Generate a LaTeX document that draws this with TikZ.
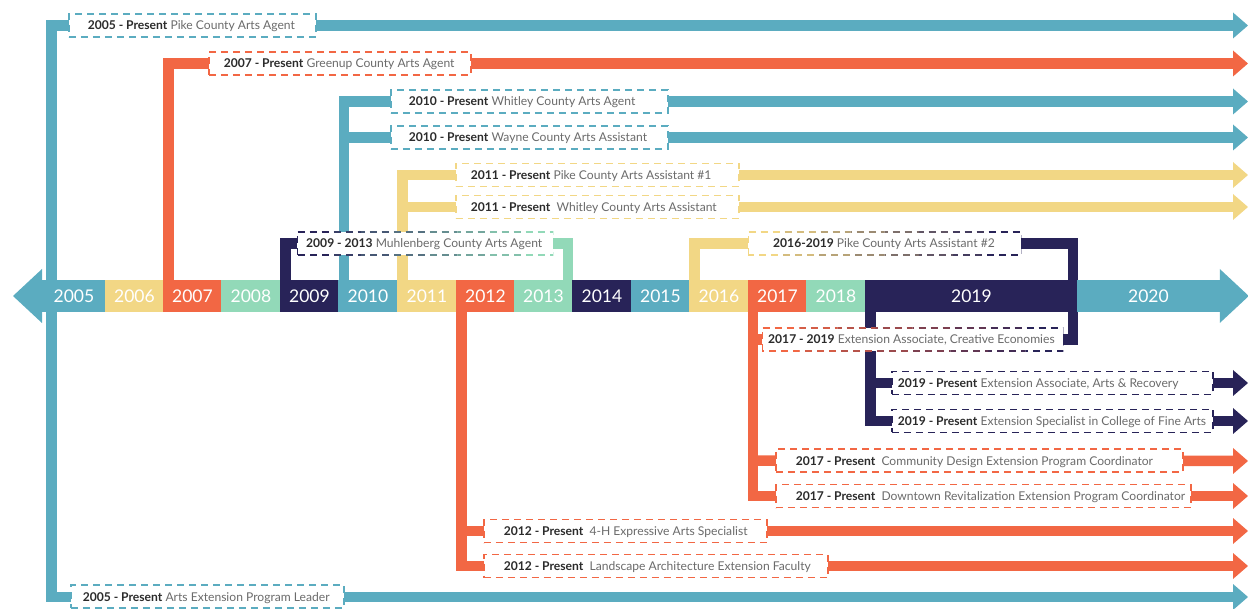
\documentclass[tikz,border=0pt]{standalone}
\usepackage{fontspec}
\setmainfont{Lato}
\usetikzlibrary{arrows.meta,calc,backgrounds}
\definecolor{cteal}{HTML}{5BACC0}
\definecolor{cyellow}{HTML}{F2D785}
\definecolor{corange}{HTML}{F26744}
\definecolor{cmint}{HTML}{92D9B8}
\definecolor{cnavy}{HTML}{282358}
\definecolor{cdark}{HTML}{2B2B2B}
\definecolor{cgray}{HTML}{6B6B6B}
\newcommand\bxt[4]{\makebox[#1pt][l]{\hspace{#2pt}\textcolor{cdark}{\bfseries #3} #4}}
\newcommand\gradborder[3]{%
  \foreach \i in {0,...,7}{%
    \pgfmathtruncatemacro\pa{100-\i*100/7}%
    \begin{scope}
      \clip ($(#1.south west)!\i/8!(#1.south east)+(0,6)$) rectangle ($(#1.north west)!{(\i+1)/8}!(#1.north east)+(0,-6)$);
      \draw[draw=#2!\pa!#3, dash pattern=on 7pt off 5pt, line width=1.5pt] (#1.south west) rectangle (#1.north east);
    \end{scope}}}
\begin{document}
\begin{tikzpicture}[x=1pt,y=-1pt,
  >={Triangle[length=15pt,width=26pt,line width=0pt]},
  ln/.style={line width=10.5pt, draw=#1},
  box/.style={fill=white, draw=#1, dash pattern=on 7pt off 5pt, line width=1.5pt,
    minimum height=23pt, inner xsep=0pt, inner ysep=0pt, anchor=west,
    text height=10pt, text depth=1pt,
    font=\fontsize{12.1}{14}\selectfont, text=cgray},
  gbox/.style={fill=white, draw=none, minimum height=23pt, inner xsep=0pt, inner ysep=0pt,
    text height=10pt, text depth=1pt,
    anchor=west, font=\fontsize{12.1}{14}\selectfont, text=cgray},
  yr/.style={fill=#1, draw=none, minimum height=32pt, inner sep=0pt, text=white,
    font=\fontsize{17.5}{20}\selectfont, anchor=west}
]
\useasboundingbox (0,0) rectangle (1248,609);

% timeline bar
\foreach \a/\b/\c/\t in {42/105/cteal/2005, 105/163/cyellow/2006, 163/221/corange/2007,
  221/280/cmint/2008, 280/338/cnavy/2009, 338/397/cteal/2010, 397/456/cyellow/2011,
  456/514/corange/2012, 514/572/cmint/2013, 572/631/cnavy/2014, 631/689/cteal/2015,
  689/748/cyellow/2016, 748/806/corange/2017, 806/865/cmint/2018, 865/1077/cnavy/2019,
  1077/1219/cteal/2020}{
  \pgfmathsetmacro\w{\b-\a+0.4}
  \node[yr=\c, minimum width=\w pt] (y\t) at (\a,296) {\t};
}
\fill[cteal] ([yshift=27pt]y2005.west) -- ([xshift=-29pt]y2005.west) -- ([yshift=-27pt]y2005.west) -- cycle;
\fill[cteal] ([yshift=27pt]y2020.east) -- ([xshift=29pt]y2020.east) -- ([yshift=-27pt]y2020.east) -- cycle;

% arrow ends and corners
\coordinate (e1) at (1248,25.5);
\coordinate (e2) at (1248,63.5);
\coordinate (e3) at (1248,101.5);
\coordinate (e4) at (1248,137.5);
\coordinate (e5) at (1248,175);
\coordinate (e6) at (1248,207);
\coordinate (e10) at (1248,383);
\coordinate (e11) at (1248,421);
\coordinate (e12) at (1248,461);
\coordinate (e13) at (1248,496);
\coordinate (e14) at (1248,531);
\coordinate (e15) at (1248,566);
\coordinate (e16) at (1248,597);
\coordinate (k1) at (51.5,25.5);
\coordinate (k16) at (51.5,597);

% boxes
\node[box=cteal] (b1) at (68,25.5) {\bxt{247}{19}{2005 - Present}{Pike County Arts Agent}};
\node[box=corange] (b2) at (208,63.5) {\bxt{262}{15}{2007 - Present}{Greenup County Arts Agent}};
\node[box=cteal] (b3) at (390,101.5) {\bxt{277}{18}{2010 - Present}{Whitley County Arts Agent}};
\node[box=cteal] (b4) at (390,137.5) {\bxt{277}{18}{2010 - Present}{Wayne County Arts Assistant}};
\node[box=cyellow] (b5) at (455,175) {\bxt{283}{15}{2011 - Present}{Pike County Arts Assistant \#1}};
\node[box=cyellow] (b6) at (455,207) {\bxt{283}{15}{2011 - Present}{\hspace{3pt}Whitley County Arts Assistant}};
\node[gbox] (b7) at (297,243.5) {\bxt{256}{9}{2009 - 2013}{Muhlenberg County Arts Agent}};
\node[gbox] (b8) at (748,243.5) {\bxt{273}{25}{2016-2019}{Pike County Arts Assistant \#2}};
\node[gbox] (b9) at (762,339.5) {\bxt{301}{6}{2017 - 2019}{Extension Associate, Creative Economies}};
\node[box=cnavy] (b10) at (891,383) {\bxt{321}{6}{2019 - Present}{Extension Associate, Arts \& Recovery}};
\node[box=cnavy] (b11) at (891,421) {\bxt{321}{6}{2019 - Present}{Extension Specialist in College of Fine Arts}};
\node[box=corange] (b12) at (775,460.5) {\bxt{407}{20}{2017 - Present}{\hspace{3pt}Community Design Extension Program Coordinator}};
\node[box=corange] (b13) at (775,496) {\bxt{415}{20}{2017 - Present}{\hspace{3pt}Downtown Revitalization Extension Program Coordinator}};
\node[box=corange] (b14) at (483,531) {\bxt{283}{20}{2012 - Present}{\hspace{3pt}4-H Expressive Arts Specialist}};
\node[box=corange] (b15) at (483,566) {\bxt{344}{20}{2012 - Present}{\hspace{3pt}Landscape Architecture Extension Faculty}};
\node[box=cteal] (b16) at (70,596.5) {\bxt{273}{12}{2005 - Present}{Arts Extension Program Leader}};
\gradborder{b7}{cnavy}{cmint}
\gradborder{b8}{cyellow}{cnavy}
\gradborder{b9}{corange}{cnavy}

% connectors
\begin{pgfonlayer}{background}
\draw[ln=cteal, <->] (e1) -- (k1) -- (k16) -- (e16);
\draw[ln=corange, ->] ([xshift=5.5pt]y2007.north west) |- (e2);
\draw[ln=cteal, ->] ([xshift=6pt]y2010.north west) |- (e3);
\draw[ln=cteal, ->] ([xshift=6pt]y2010.north west |- b4.west) -- (e4);
\draw[ln=cnavy] ([xshift=5.5pt]y2009.north west) |- (b7.west);
\draw[ln=cmint] (b7.east) -| ([xshift=-5pt]y2013.north east);
\draw[ln=cyellow, ->] ([xshift=5.5pt]y2011.north west) |- (e5);
\draw[ln=cyellow, ->] ([xshift=5.5pt]y2011.north west |- b6.west) -- (e6);
\draw[ln=corange, ->] ([xshift=5.5pt]y2012.south west) |- (e15);
\draw[ln=corange, ->] ([xshift=5.5pt]y2012.south west |- b14.west) -- (e14);
\draw[ln=cyellow] ([xshift=5.5pt]y2016.north west) |- (b8.west);
\draw[ln=cnavy] (b8.east) -| ([xshift=-5pt]y2019.east |- b9.east) -- (b9.east);
\draw[ln=corange, ->] ([xshift=5pt]y2017.south west) |- (e13);
\draw[ln=corange, ->] ([xshift=5pt]y2017.south west |- b12.west) -- (e12);
\draw[ln=corange] ([xshift=5pt]y2017.south west |- b9.west) -- (b9.west);
\draw[ln=cnavy, ->] ([xshift=5.5pt]y2019.south west) |- (e11);
\draw[ln=cnavy, ->] ([xshift=5.5pt]y2019.south west |- b10.west) -- (e10);
\end{pgfonlayer}
\end{tikzpicture}
\end{document}
